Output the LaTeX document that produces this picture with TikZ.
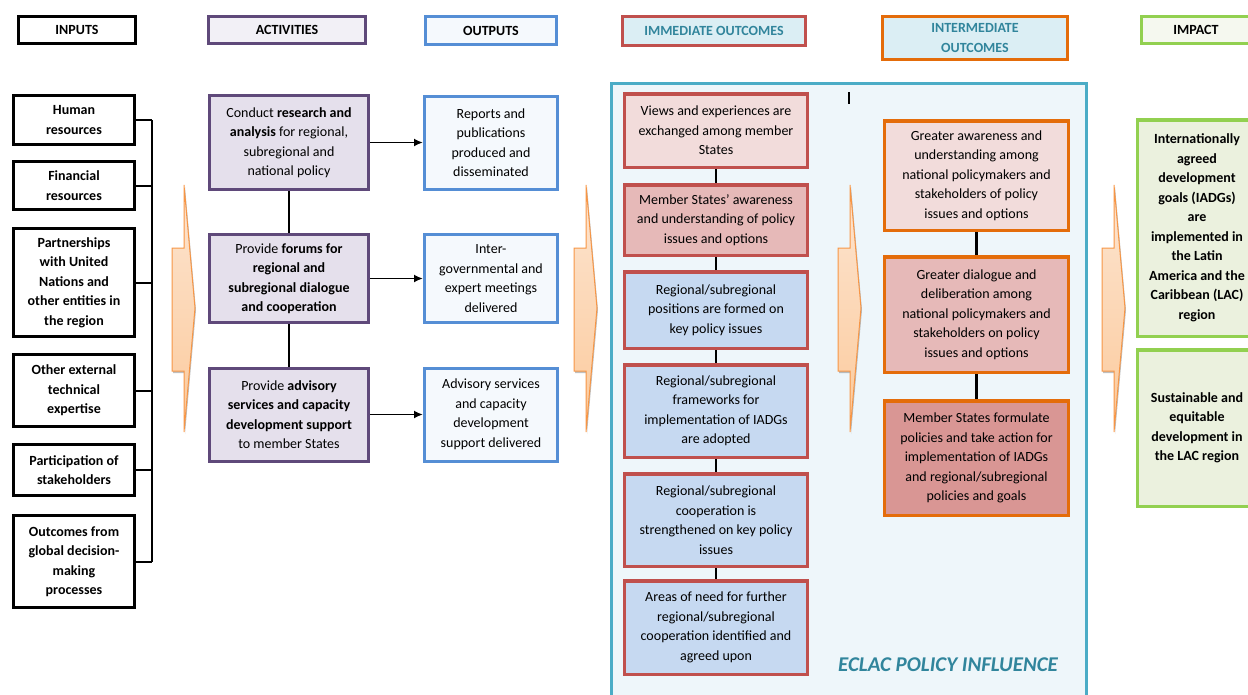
\documentclass[tikz,border=0pt]{standalone}
\usepackage{fontspec}
\setmainfont{Carlito}
\usepackage{tikz}
\usetikzlibrary{arrows,arrows.meta,shapes,shadows}

\definecolor{purpleline}{HTML}{5F497A}
\definecolor{purplefill}{HTML}{E5E0EC}
\definecolor{purplehead}{HTML}{F2F0F6}
\definecolor{blueline}{HTML}{558ED5}
\definecolor{bluefill}{HTML}{F5F9FD}
\definecolor{redline}{HTML}{C0504D}
\definecolor{rosefill}{HTML}{F2DCDB}
\definecolor{pinkfill}{HTML}{E6B9B8}
\definecolor{darkpinkfill}{HTML}{D99694}
\definecolor{skyfill}{HTML}{C6D9F1}
\definecolor{orangeline}{HTML}{E46C0A}
\definecolor{greenline}{HTML}{92D050}
\definecolor{greenfill}{HTML}{EBF1DE}
\definecolor{greenhead}{HTML}{F5F8EF}
\definecolor{tealfill}{HTML}{DBEEF4}
\definecolor{tealtext}{HTML}{31859C}
\definecolor{panelline}{HTML}{4BACC6}
\definecolor{panelfill}{HTML}{EEF6FA}
\definecolor{peachline}{HTML}{F79646}
\definecolor{peachtop}{HTML}{FDE5D1}
\definecolor{peachbot}{HTML}{FBCA9C}

\newcommand\boxfont{\fontsize{14}{19.5}\selectfont}

\tikzstyle{box}=[rectangle,line width=3pt,align=center,inner sep=2pt]
\tikzstyle{header}=[box,font=\boxfont\bfseries]
\tikzstyle{input}=[box,draw=black,fill=white,font=\boxfont\bfseries,
                   minimum width=121pt]
\tikzstyle{activity}=[box,draw=purpleline,fill=purplefill,minimum width=159pt]
\tikzstyle{output}=[box,draw=blueline,fill=bluefill,minimum width=133pt]
\tikzstyle{immediate}=[box,line width=3.5pt,draw=redline,minimum width=183pt]
\tikzstyle{intermediate}=[box,line width=3.5pt,draw=orangeline,
                          minimum width=184pt]
\tikzstyle{impact}=[box,line width=3.5pt,draw=greenline,fill=greenfill,
                    font=\boxfont\bfseries,minimum width=119pt]
\tikzstyle{link}=[black,line width=2.5pt]
\tikzstyle{bracket}=[black,line width=2pt]
\tikzstyle{feed}=[->,black,line width=1.8pt]
\tikzstyle{panel}=[draw=panelline,line width=3pt,fill=panelfill]
\tikzstyle{bigarrow}=[draw=peachline,line width=1pt,top color=peachtop,
                      bottom color=peachbot,
                      drop shadow={shadow xshift=1pt,shadow yshift=-2pt,opacity=.5}]

\begin{document}
\begin{tikzpicture}[x=1pt,y=-1pt,>={Latex[length=9pt,width=8pt]},
                    node distance=136pt,font=\boxfont]
\useasboundingbox (0,0) rectangle (1248,694);
\clip (0,0) rectangle (1248,694);

	% policy influence panel
	\draw[panel] (611,83) rectangle (1086,712);
	\node[font=\fontsize{21}{25}\selectfont\bfseries\itshape,text=tealtext]
		(eclac) at (948,665) {ECLAC POLICY INFLUENCE};
	\draw[line width=1.5pt] (849,92) -- (849,104);

	% column headers
	\node[header,draw=black,fill=white,minimum width=117pt,minimum height=27pt]
		(hinputs) at (77,30) {INPUTS};
	\node[header,draw=purpleline,fill=purplehead,minimum width=157pt,minimum height=27pt]
		(hactivities) at (287,30) {ACTIVITIES};
	\node[header,draw=blueline,fill=bluefill,minimum width=131pt,minimum height=28pt]
		(houtputs) at (491,30.5) {OUTPUTS};
	\node[header,draw=redline,fill=tealfill,text=tealtext,minimum width=183pt,minimum height=29pt]
		(himmediate) at (714,31) {IMMEDIATE OUTCOMES};
	\node[header,draw=orangeline,fill=tealfill,text=tealtext,minimum width=185pt,minimum height=43pt]
		(hintermediate) at (975,38) {INTERMEDIATE\\OUTCOMES};
	\node[header,draw=greenline,fill=greenhead,minimum width=109pt,minimum height=27pt]
		(himpact) at (1196,30) {IMPACT};

	% inputs
	\node[input,minimum height=49pt] (in1) at (74,120) {Human\\resources};
	\node[input,minimum height=48pt] (in2) at (74,185.5) {Financial\\resources};
	\node[input,minimum height=108pt] (in3) at (74,282.5)
		{Partnerships\\with United\\Nations and\\other entities in\\the region};
	\node[input,minimum height=72pt] (in4) at (74,390.5)
		{Other external\\technical\\expertise};
	\node[input,minimum height=51pt] (in5) at (74,470)
		{Participation of\\stakeholders};
	\node[input,minimum height=92pt] (in6) at (74,561.5)
		{Outcomes from\\global decision-\\making\\processes};

	\coordinate (spine) at (152,0);
	\draw[bracket] (in1.east -| spine) -- (in6.east -| spine);
	\foreach \i in {1,...,6}
		\draw[bracket] (in\i.east) -- (in\i.east -| spine);

	% activities
	\node[activity,minimum height=94pt] (act1) at (289,142.5)
		{Conduct \textbf{research and}\\\textbf{analysis} for regional,\\subregional and\\national policy};
	\node[activity,minimum height=88pt] (act2) [below of=act1]
		{Provide \textbf{forums for}\\\textbf{regional and}\\\textbf{subregional dialogue}\\\textbf{and cooperation}};
	\node[activity,minimum height=93pt] (act3) [below of=act2]
		{Provide \textbf{advisory}\\\textbf{services and capacity}\\\textbf{development support}\\to member States};
	\draw[link] (act1) -- (act2) (act2) -- (act3);

	% outputs
	\node[output,minimum height=93pt] (out1) at (491,142.5)
		{Reports and\\publications\\produced and\\disseminated};
	\node[output,minimum height=88pt] (out2) at (491,278.5)
		{Inter-\\governmental and\\expert meetings\\delivered};
	\node[output,minimum height=93pt] (out3) at (491,414.5)
		{Advisory services\\and capacity\\development\\support delivered};
	\foreach \i in {1,2,3}
		\draw[feed] (act\i.east) -- (out\i.west |- act\i.east);

	% immediate outcomes
	\node[immediate,fill=rosefill,minimum height=73.5pt] (im1) at (716,130.5)
		{Views and experiences are\\exchanged among member\\States};
	\node[immediate,fill=pinkfill,minimum height=70.5pt] (im2) at (716,220)
		{Member States’ awareness\\and understanding of policy\\issues and options};
	\node[immediate,fill=skyfill,minimum height=76.5pt] (im3) at (716,310)
		{Regional/subregional\\positions are formed on\\key policy issues};
	\node[immediate,fill=skyfill,minimum height=92.5pt] (im4) at (716,411)
		{Regional/subregional\\frameworks for\\implementation of IADGs\\are adopted};
	\node[immediate,fill=skyfill,minimum height=92.5pt] (im5) at (716,520)
		{Regional/subregional\\cooperation is\\strengthened on key policy\\issues};
	\node[immediate,fill=skyfill,minimum height=93.5pt] (im6) at (716,627.5)
		{Areas of need for further\\regional/subregional\\cooperation identified and\\agreed upon};
	\foreach \a/\b in {im1/im2,im2/im3,im3/im4,im4/im5,im5/im6}
		\draw[link] (\a) -- (\b);

	% intermediate outcomes
	\node[intermediate,fill=rosefill,minimum height=109.5pt] (int1) at (976.5,175.5)
		{Greater awareness and\\understanding among\\national policymakers and\\stakeholders of policy\\issues and options};
	\node[intermediate,fill=pinkfill,minimum height=115.5pt] (int2) at (976.5,314.5)
		{Greater dialogue and\\deliberation among\\national policymakers and\\stakeholders on policy\\issues and options};
	\node[intermediate,fill=darkpinkfill,minimum height=114.5pt] (int3) at (976.5,458)
		{Member States formulate\\policies and take action for\\implementation of IADGs\\and regional/subregional\\policies and goals};
	\draw[link] (int1) -- (int2) (int2) -- (int3);

	% impact
	\node[impact,minimum height=216.5pt] (imp1) at (1197,228)
		{Internationally\\agreed\\development\\goals (IADGs)\\are\\implemented in\\the Latin\\America and the\\Caribbean (LAC)\\region};
	\node[impact,minimum height=156.5pt] (imp2) at (1197,428)
		{Sustainable and\\equitable\\development in\\the LAC region};

	% block arrows between columns
	\foreach \x in {172,574,838,1102}
		\draw[bigarrow] (\x,248) -- ++(12,0) -- ++(0,-63) -- (\x+23,308)
			-- (\x+12,432) -- ++(0,-61) -- (\x,371) -- cycle;
\end{tikzpicture}
\end{document}
